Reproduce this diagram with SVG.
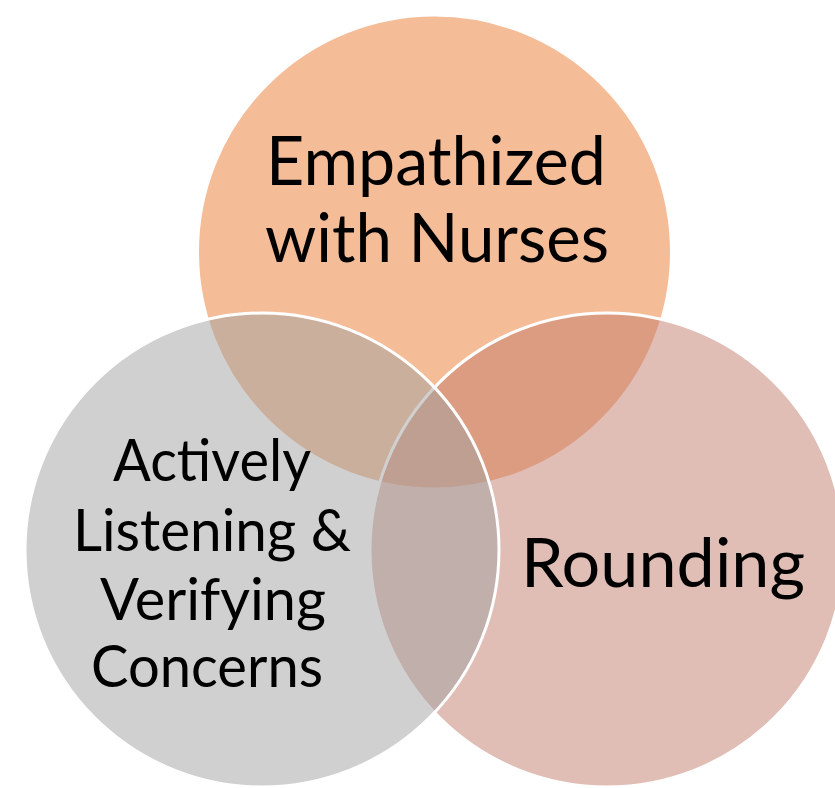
<svg xmlns="http://www.w3.org/2000/svg" width="835" height="788" viewBox="0 0 835 788">
<style>
.c{stroke:#FFFFFF;stroke-width:3}
.t{font-family:Lato,"Liberation Sans",sans-serif;fill:#000000;text-anchor:middle}
.big{font-size:68px}
.small{font-size:59px}
</style>
<rect width="835" height="788" fill="#FFFFFF"/>
<g id="node-empathized">
<circle class="c" cx="434.5" cy="252" r="237" fill="#F5BC98"/>
<text class="t big" x="436" y="185" textLength="340" lengthAdjust="spacingAndGlyphs">Empathized</text>
<text class="t big" x="437" y="262" textLength="344" lengthAdjust="spacingAndGlyphs">with Nurses</text>
</g>
<g id="node-rounding">
<circle class="c" cx="607" cy="550" r="237" fill="#C17B6B" fill-opacity="0.5"/>
<text class="t big" x="663" y="587" textLength="284" lengthAdjust="spacingAndGlyphs">Rounding</text>
</g>
<g id="node-listening">
<circle class="c" cx="262" cy="550" r="237" fill="#A1A1A1" fill-opacity="0.5"/>
<text class="t small" x="212" y="481" textLength="198" lengthAdjust="spacingAndGlyphs">Actively</text>
<text class="t small" x="212" y="551" textLength="278" lengthAdjust="spacingAndGlyphs">Listening &amp;</text>
<text class="t small" x="213" y="620" textLength="226" lengthAdjust="spacingAndGlyphs">Verifying</text>
<text class="t small" x="207" y="687" textLength="232" lengthAdjust="spacingAndGlyphs">Concerns</text>
</g>
<g id="connectors"></g>
</svg>
